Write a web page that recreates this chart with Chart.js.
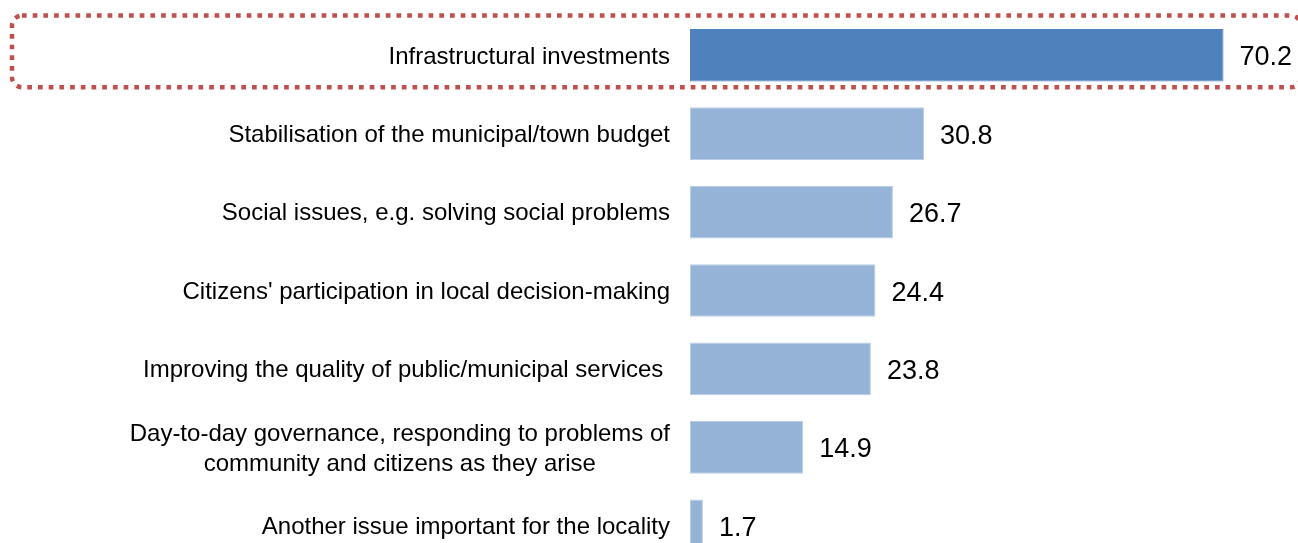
<!DOCTYPE html>
<html>
<head>
<meta charset="utf-8">
<style>
html,body{margin:0;padding:0;background:#fff;overflow:hidden;}
#wrap{width:1298px;height:543px;overflow:hidden;}
canvas{display:block;}
</style>
<script src="https://cdn.jsdelivr.net/npm/chart.js@4.4.1/dist/chart.umd.min.js"></script>
</head>
<body>
<div id="wrap"><canvas id="c" width="1298" height="565"></canvas></div>
<script>
const categories = [
  "Infrastructural investments",
  "Stabilisation of the municipal/town budget",
  "Social issues, e.g. solving social problems",
  "Citizens' participation in local decision-making",
  "Improving the quality of public/municipal services ",
  ["Day-to-day governance, responding to problems of", "community and citizens as they arise"],
  "Another issue important for the locality"
];
const values = [70.2, 30.8, 26.7, 24.4, 23.8, 14.9, 1.7];
const axisMin = 0;
const axisMax = 80;

const FONT = "'Liberation Sans', Arial, sans-serif";

// Category labels: each label block right-aligned to the axis, its lines centred within the block
const categoryLabels = {
  id: 'categoryLabels',
  afterDraw(chart) {
    const ctx = chart.ctx;
    const ys = chart.scales.y;
    const right = chart.chartArea.left - 20;
    const lineH = 30;
    ctx.save();
    ctx.font = "24px " + FONT;
    ctx.fillStyle = "#000";
    ctx.textAlign = "center";
    ctx.textBaseline = "alphabetic";
    chart.data.labels.forEach((lab, i) => {
      const lines = Array.isArray(lab) ? lab : [lab];
      const maxW = Math.max(...lines.map(l => ctx.measureText(l).width));
      const cx = right - maxW / 2;
      const cy = ys.getPixelForValue(i);
      const y0 = cy - (lines.length - 1) * lineH / 2;
      lines.forEach((l, k) => {
        ctx.fillText(l, cx, y0 + k * lineH + 8.3);
      });
    });
    ctx.restore();
  }
};

const valueLabels = {
  id: 'valueLabels',
  afterDatasetsDraw(chart) {
    const ctx = chart.ctx;
    const meta = chart.getDatasetMeta(0);
    ctx.save();
    ctx.font = "27px " + FONT;
    ctx.fillStyle = "#000";
    ctx.textAlign = "left";
    ctx.textBaseline = "alphabetic";
    meta.data.forEach((bar, i) => {
      const v = chart.data.datasets[0].data[i];
      ctx.fillText(v.toFixed(1), bar.x + 16, bar.y + 10);
    });
    ctx.restore();
  }
};

const highlightBox = {
  id: 'highlightBox',
  afterDraw(chart) {
    const ctx = chart.ctx;
    const ys = chart.scales.y;
    const cy = ys.getPixelForValue(0);
    const x0 = 12, x1 = 1301;
    const y0 = cy - 39.6, y1 = cy + 32;
    const r = 10;
    ctx.save();
    ctx.strokeStyle = "#C0504D";
    ctx.lineWidth = 4.5;
    ctx.setLineDash([4.7, 6]);
    ctx.lineCap = "butt";
    ctx.beginPath();
    ctx.moveTo(x0 + r, y0);
    ctx.lineTo(x1 - r, y0);
    ctx.arcTo(x1, y0, x1, y0 + r, r);
    ctx.lineTo(x1, y1 - r);
    ctx.arcTo(x1, y1, x1 - r, y1, r);
    ctx.lineTo(x0 + r, y1);
    ctx.arcTo(x0, y1, x0, y1 - r, r);
    ctx.lineTo(x0, y0 + r);
    ctx.arcTo(x0, y0, x0 + r, y0, r);
    ctx.closePath();
    ctx.stroke();
    ctx.restore();
  }
};

new Chart(document.getElementById('c'), {
  type: 'bar',
  data: {
    labels: categories,
    datasets: [{
      data: values,
      backgroundColor: (c) => c.dataIndex === 0 ? '#4F81BD' : '#95B3D7',
      borderColor: (c) => c.dataIndex === 0 ? '#4F81BD' : '#B9CDE5',
      borderWidth: 1,
      borderSkipped: false,
      barPercentage: 0.671,
      categoryPercentage: 1.0
    }]
  },
  options: {
    indexAxis: 'y',
    responsive: false,
    animation: false,
    devicePixelRatio: 1,
    layout: { padding: { top: 16, bottom: 0, left: 690, right: 0 } },
    plugins: { legend: { display: false }, tooltip: { enabled: false } },
    scales: {
      x: {
        display: false,
        min: axisMin,
        max: axisMax
      },
      y: {
        display: false
      }
    }
  },
  plugins: [valueLabels, categoryLabels, highlightBox]
});
</script>
</body>
</html>
